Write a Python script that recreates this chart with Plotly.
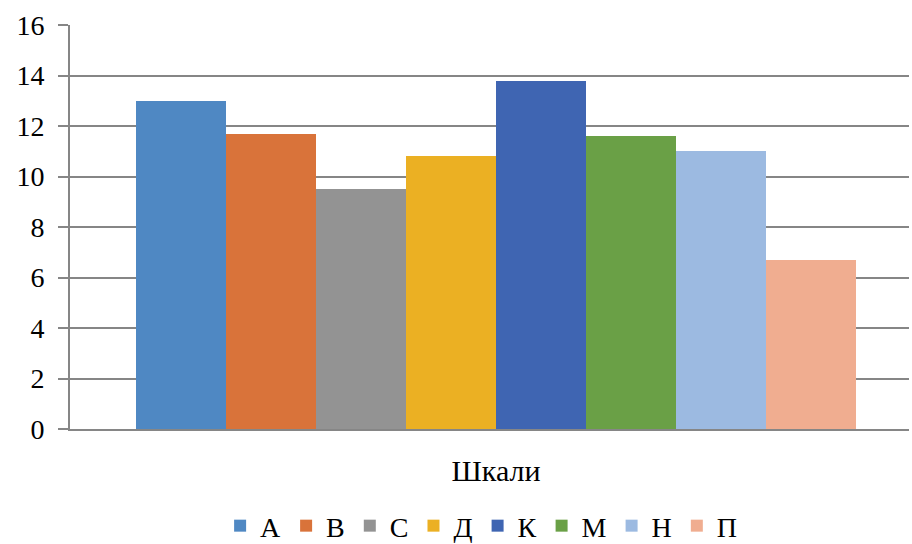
import plotly.graph_objects as go

categories = ["Шкали"]
series_names = ["А", "В", "С", "Д", "К", "М", "Н", "П"]
series_values = [13.0, 11.7, 9.5, 10.8, 13.8, 11.6, 11.0, 6.7]
series_colors = ["#4f88c3", "#d9733a", "#939393", "#ebb023", "#3f65b2",
                 "#6aa046", "#9cbae1", "#f0ad90"]
y_ticks = [0, 2, 4, 6, 8, 10, 12, 14, 16]

FONT = "Liberation Serif"

fig = go.Figure()
for name, val, col in zip(series_names, series_values, series_colors):
    fig.add_trace(go.Bar(x=categories, y=[val], name=name,
                         marker=dict(color=col, line=dict(width=0))))

fig.update_layout(
    width=912, height=544,
    margin=dict(l=70, r=3, t=25, b=115, autoexpand=False),
    paper_bgcolor="white", plot_bgcolor="white",
    barmode="group", bargap=0, bargroupgap=0,
    font=dict(family=FONT, size=25, color="#000000"),
    showlegend=True,
    legend=dict(orientation="h", x=0.49, xanchor="center", y=-0.24, yanchor="middle",
                font=dict(family=FONT, size=28), itemwidth=30,
                traceorder="normal"),
    xaxis=dict(showline=True, linecolor="#868686", linewidth=2,
               range=[-0.5917, 0.5736],
               ticks="", tickfont=dict(family=FONT, size=30),
               ticklabelstandoff=14, showgrid=False, zeroline=False),
    yaxis=dict(range=[0, 16], tickvals=y_ticks, showgrid=True,
               gridcolor="#868686", gridwidth=2, zeroline=False,
               showline=True, linecolor="#868686", linewidth=2,
               ticks="outside", ticklen=10, tickcolor="#868686", tickwidth=2,
               tickfont=dict(family=FONT, size=28), ticklabelstandoff=8),
)

fig.write_html("out.html")
